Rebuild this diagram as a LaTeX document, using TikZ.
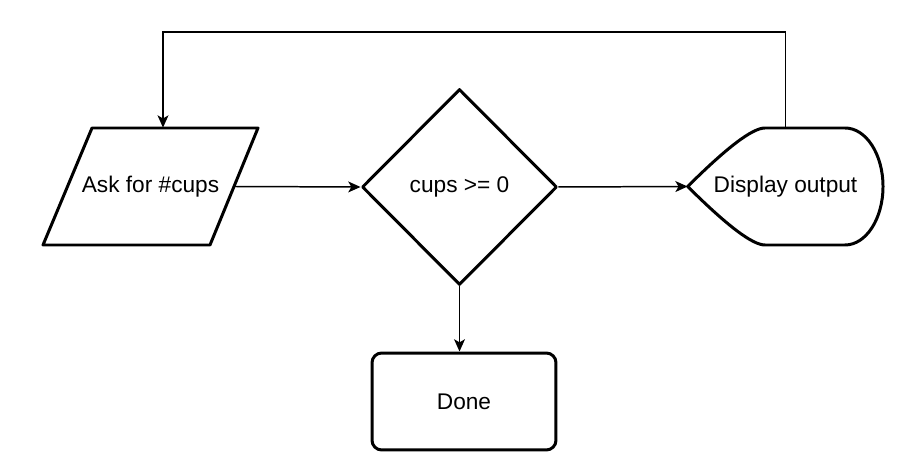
\documentclass[tikz,border=0pt]{standalone}
\usepackage{fontspec}
\setmainfont{Liberation Sans}
\usetikzlibrary{shapes.geometric,arrows.meta}

\begin{document}
\begin{tikzpicture}[x=0.02cm, y=-0.02cm]
        \tikzset{border/.style={line width=1.7pt, line join=round},
                 flow/.style={line width=0.85pt, -{Stealth[length=7pt, width=6.2pt, inset=1.8pt]}},
                 every node/.style={font=\fontsize{12.9}{16}\selectfont, inner sep=0pt}}
        \useasboundingbox (0,0) rectangle (915,475);
        \node [minimum width=3.34cm, minimum height=2.34cm] (ask) at (150.5,186.5){Ask for \#cups};
        \node [border, draw, diamond, minimum width=3.9cm, minimum height=3.92cm] (test) at (459.5,187){cups >= 0};
        \node [minimum width=3.9cm, minimum height=2.34cm] (show) at (785.5,186.5){Display output};
        \node [border, draw, rounded corners=5.5pt, minimum width=3.68cm, minimum height=1.94cm] (done) at (464,401.5){Done};
        % input outline
        \draw [border] (92,128) -- (258,128) -- (210,245) -- (43,245) -- cycle;
        % display outline
        \draw [border] (show.west) .. controls (726.7,147.7) and (752.3,128) .. (765,128) -- (845,128)
              arc [start angle=-90, end angle=90, x radius=38, y radius=58.5] -- (765,245)
              .. controls (752.3,245) and (726.7,225.3) .. (show.west) -- cycle;
        % connectors
        \coordinate (back) at (163,32);
        \draw [flow] (ask.east) -- (test.west);
        \draw [flow] (test.east) -- (show.west);
        \draw [flow] (test.south) -- (test.south |- done.north);
        \draw [flow] (show.north) |- (back) -- (back |- ask.north);
\end{tikzpicture}
\end{document}
